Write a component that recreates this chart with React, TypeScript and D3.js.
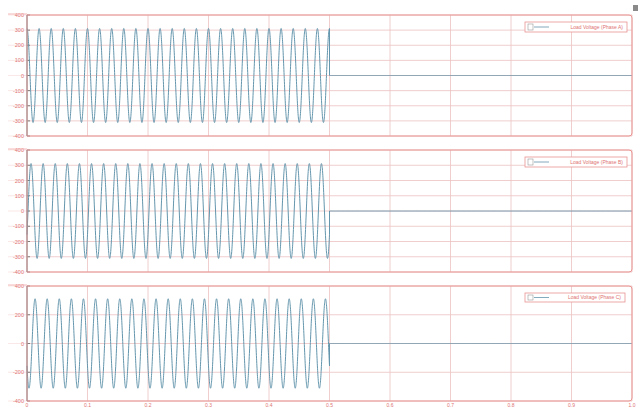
import React from "react";
import * as d3 from "d3";

// Three-phase load voltage, one scope panel per phase
const phaseNames = ["Load Voltage (Phase A)", "Load Voltage (Phase B)", "Load Voltage (Phase C)"];
const phaseShiftDeg = [90, -30, 210];
const peakVoltage = [311, 311, 311];
const frequencyHz = 50;
const switchOffTime = 0.5;
const timeDomain = [0, 1];
const timeTicks = [0, 0.1, 0.2, 0.3, 0.4, 0.5, 0.6, 0.7, 0.8, 0.9, 1.0];
const voltTicksFine = [-400, -300, -200, -100, 0, 100, 200, 300, 400];
const voltTicksCoarse = [-400, -200, 0, 200, 400];
const panelTicks = [voltTicksFine, voltTicksFine, voltTicksCoarse];

const W = 639;
const H = 408;
const left = 27;
const right = 632;
const panels = [
  { top: 15, bottom: 136 },
  { top: 150, bottom: 272 },
  { top: 286, bottom: 401 },
];
const legendBoxes = [
  { x: 525, y: 22, w: 102, h: 10 },
  { x: 525, y: 157, w: 102, h: 10 },
  { x: 525, y: 293, w: 100, h: 9 },
];

const gridColor = "#ecc2c2";
const frameColor = "#ea9494";
const labelColor = "#e07474";
const waveColor = "#6496ad";

const dt = 0.0002;

function sampleSignal(i: number): [number, number][] {
  const pts: [number, number][] = [];
  const phi = (phaseShiftDeg[i] * Math.PI) / 180;
  const n = Math.round((timeDomain[1] - timeDomain[0]) / dt);
  for (let k = 0; k <= n; k++) {
    const t = timeDomain[0] + k * dt;
    if (t <= switchOffTime + 1e-9) {
      pts.push([t, peakVoltage[i] * Math.sin(2 * Math.PI * frequencyHz * t + phi)]);
    } else {
      if (pts.length && pts[pts.length - 1][1] !== 0 && pts[pts.length - 1][0] <= switchOffTime + 1e-9) {
        pts.push([switchOffTime, 0]);
      }
      pts.push([t, 0]);
    }
  }
  return pts;
}

export default function App() {
  const x = d3.scaleLinear().domain(timeDomain).range([left, right]);
  return (
    <svg
      width={W}
      height={H}
      style={{ position: "absolute", left: 0, top: 0, background: "#fff" }}
      fontFamily="Liberation Sans, Arial, sans-serif"
    >
      <rect x={0} y={0} width={W} height={H} fill="#fff" />
      {panels.map((p, i) => {
        const y = d3.scaleLinear().domain([-400, 400]).range([p.bottom, p.top]);
        const line = d3
          .line<[number, number]>()
          .x((d) => x(d[0]))
          .y((d) => y(d[1]));
        const lb = legendBoxes[i];
        return (
          <g key={i}>
            {/* horizontal grid + y labels */}
            {panelTicks[i].map((v) => (
              <g key={v}>
                <line x1={left} x2={right} y1={y(v)} y2={y(v)} stroke={gridColor} strokeWidth={0.8} />
                <line x1={8} x2={left} y1={y(v)} y2={y(v)} stroke="#f6d6d6" strokeWidth={0.6} />
                <line x1={left} x2={left + 3} y1={y(v)} y2={y(v)} stroke="#666" strokeWidth={0.8} />
                <text x={left - 3} y={y(v) + 2} fontSize={5.5} fill={labelColor} textAnchor="end">
                  {v}
                </text>
              </g>
            ))}
            {/* vertical grid */}
            {timeTicks.map((t) => (
              <line key={t} x1={x(t)} x2={x(t)} y1={p.top} y2={p.bottom} stroke={gridColor} strokeWidth={0.8} />
            ))}
            {/* waveform */}
            <path d={line(sampleSignal(i)) || ""} fill="none" stroke={waveColor} strokeWidth={1} />
            {/* frame */}
            <path
              d={`M${left},${p.top} H${right - 3} Q${right},${p.top} ${right},${p.top + 3} V${p.bottom - 3} Q${right},${p.bottom} ${right - 3},${p.bottom} H${left} Z`}
              fill="none"
              stroke={frameColor}
              strokeWidth={1}
            />
            <line x1={left} x2={left} y1={p.top} y2={p.bottom} stroke="#888" strokeWidth={0.8} />
            <line x1={8} x2={left} y1={p.top - 1} y2={p.top - 1} stroke="#f3b9b9" strokeWidth={1} />
            {/* legend */}
            <rect x={lb.x} y={lb.y} width={lb.w} height={lb.h} fill="#fff" stroke={frameColor} strokeWidth={0.8} />
            <rect x={lb.x + 3} y={lb.y + 2} width={5} height={lb.h - 4} fill="none" stroke="#999" strokeWidth={0.6} />
            <line x1={lb.x + 9} x2={lb.x + 24} y1={lb.y + lb.h / 2} y2={lb.y + lb.h / 2} stroke={waveColor} strokeWidth={0.8} />
            <text x={lb.x + lb.w - 4} y={lb.y + lb.h / 2 + 1.8} fontSize={5} fill={labelColor} textAnchor="end">
              {phaseNames[i]}
            </text>
          </g>
        );
      })}
      {/* shared time axis labels */}
      {timeTicks.map((t) => (
        <text key={t} x={x(t)} y={407} fontSize={5} fill={labelColor} textAnchor="middle">
          {t === 0 ? "0" : t.toFixed(1)}
        </text>
      ))}
      <rect x={633} y={5} width={5} height={6} fill="#8a8a8a" />
    </svg>
  );
}
